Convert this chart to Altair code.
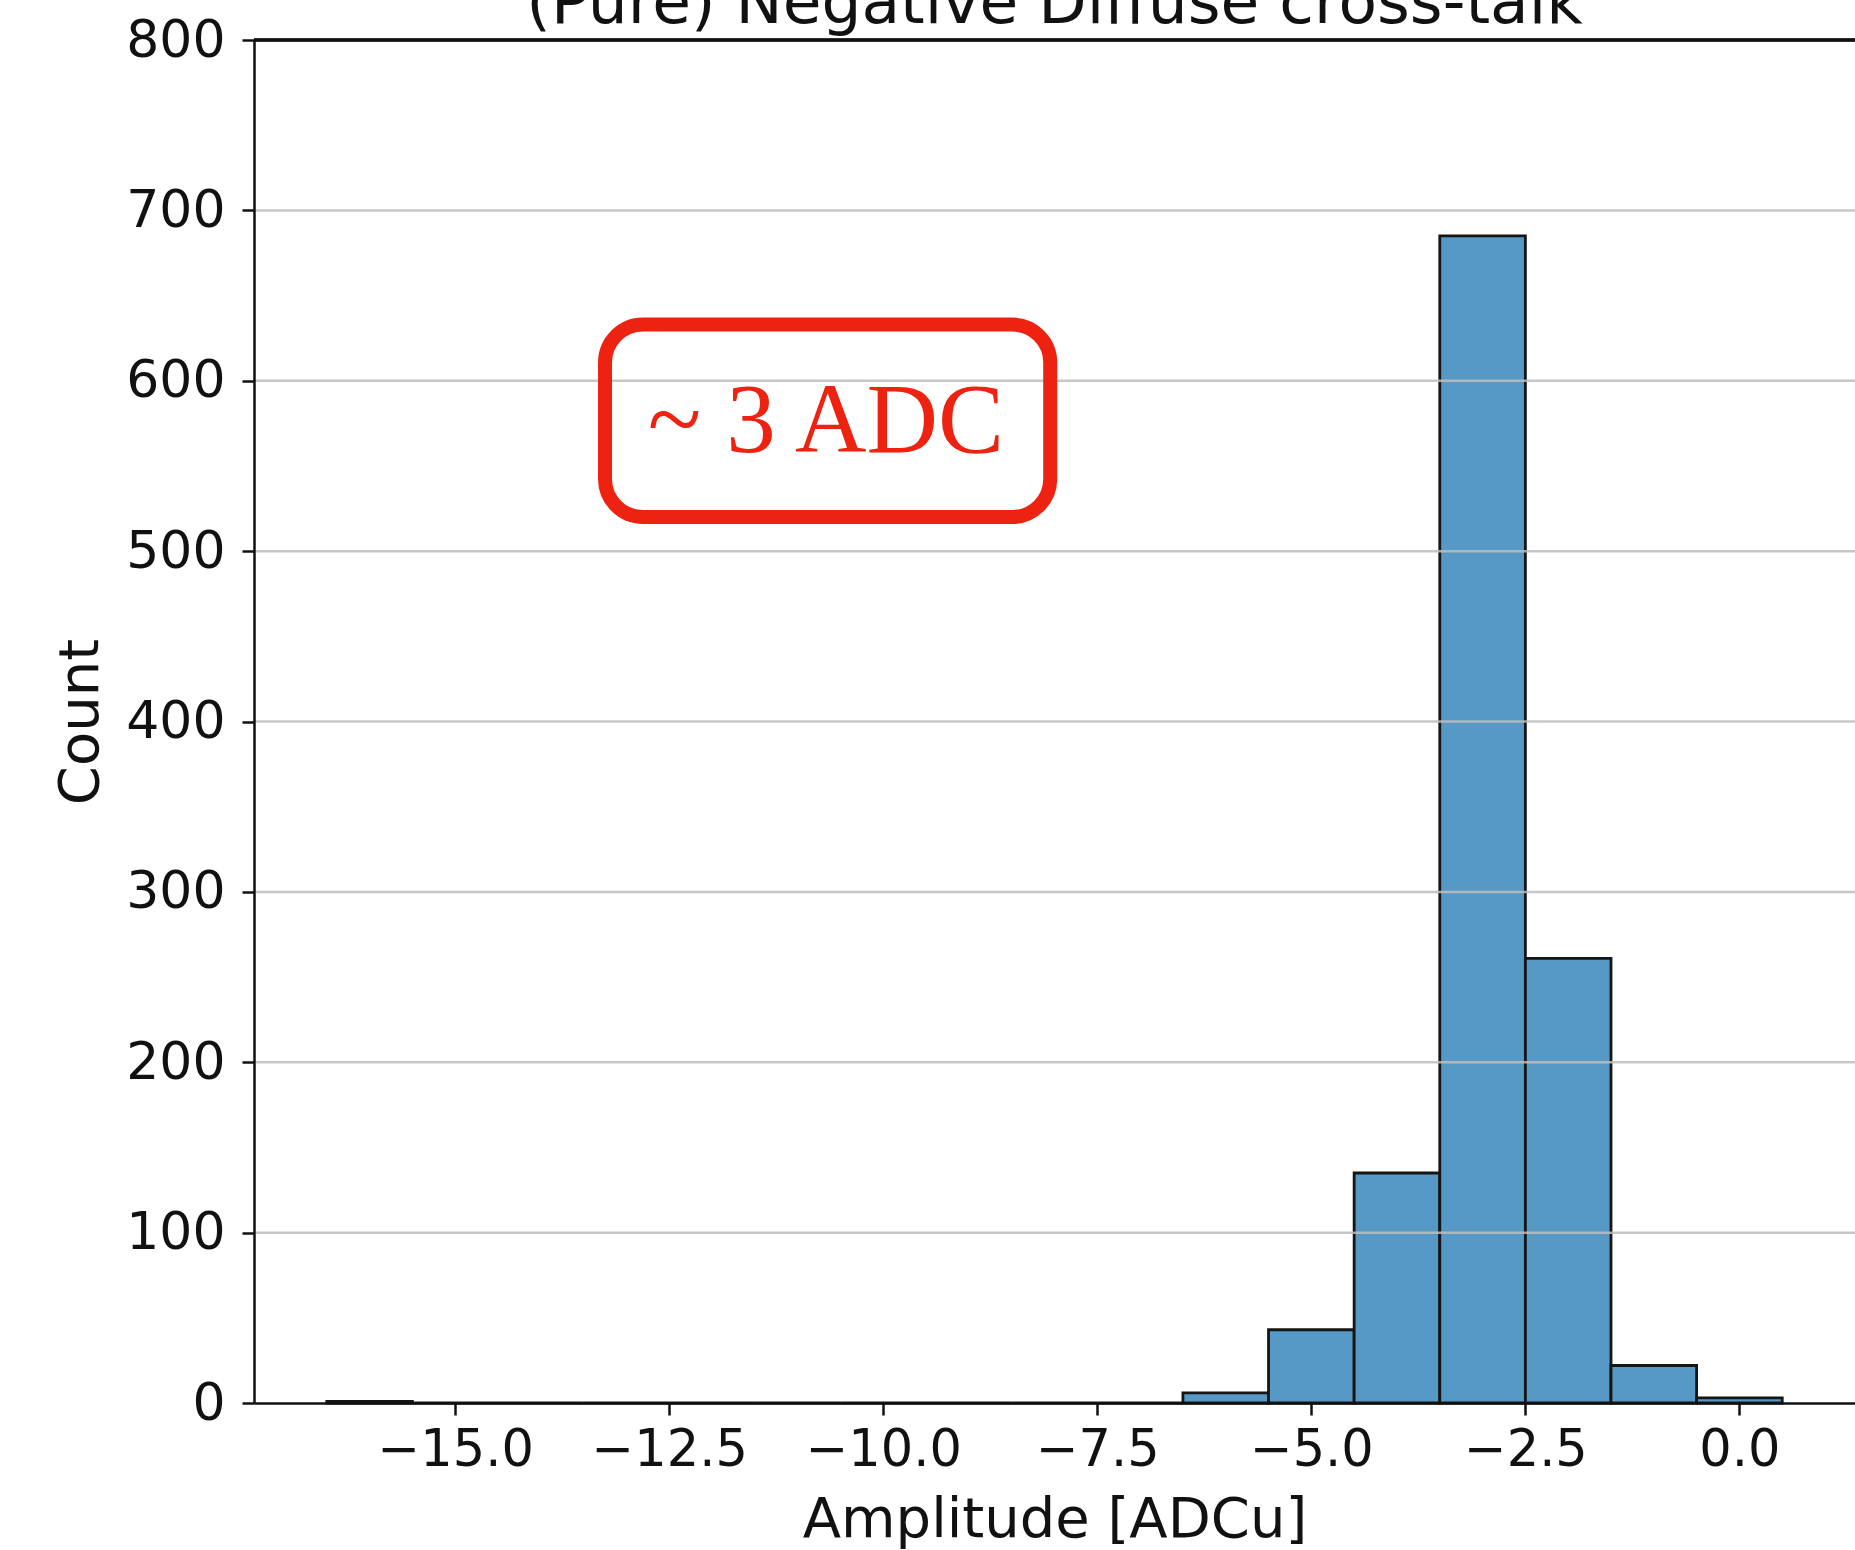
import altair as alt
import pandas as pd

# Histogram bins (edges) and counts
bin_start = [-16.5, -15.5, -14.5, -13.5, -12.5, -11.5, -10.5, -9.5, -8.5,
             -7.5, -6.5, -5.5, -4.5, -3.5, -2.5, -1.5, -0.5]
bin_end = [-15.5, -14.5, -13.5, -12.5, -11.5, -10.5, -9.5, -8.5, -7.5,
           -6.5, -5.5, -4.5, -3.5, -2.5, -1.5, -0.5, 0.5]
counts = [1, 0, 0, 0, 0, 0, 0, 0, 0, 0, 6, 43, 135, 685, 261, 22, 3]

x_ticks = [-15.0, -12.5, -10.0, -7.5, -5.0, -2.5, 0.0]
y_ticks = [0, 100, 200, 300, 400, 500, 600, 700, 800]
grid_vals = [100, 200, 300, 400, 500, 600, 700]

title_text = ["(Pure) Negative Diffuse cross-talk"]
x_label = "Amplitude [ADCu]"
y_label = "Count"

# Annotation (data coordinates)
ann_text = ["~ 3 ADC"]
ann_text_x = [-10.67]
ann_text_y = [558]
box_x1, box_x2 = [-13.25], [-8.05]
box_y1, box_y2 = [520], [633]

W, H = 1601, 1363
FONT = "DejaVu Sans"

hist = pd.DataFrame({"start": bin_start, "end": bin_end, "count": counts})
grid = pd.DataFrame({"y": grid_vals})
ann = pd.DataFrame({"t": ann_text, "x": ann_text_x, "y": ann_text_y})
box = pd.DataFrame({"x1": box_x1, "x2": box_x2, "y1": box_y1, "y2": box_y2})
ttl = pd.DataFrame({"t": title_text})

xscale = alt.Scale(domain=[-17.35, 1.35], nice=False, zero=False)
yscale = alt.Scale(domain=[0, 800], nice=False)

xaxis = alt.Axis(values=x_ticks, format=".1f", title=x_label, grid=False,
                 labelFont=FONT, labelFontSize=51, labelColor="#111",
                 labelPadding=10, tickSize=12, tickWidth=2.5, tickColor="#111",
                 domainColor="#111", domainWidth=2.5,
                 titleFont=FONT, titleFontSize=56, titleFontWeight="normal",
                 titleColor="#111", titleBaseline="alphabetic", titleY=133,
                 labelFlush=False, labelOverlap=False, zindex=2)
yaxis = alt.Axis(values=y_ticks, format="d", title=y_label, grid=False,
                 labelFont=FONT, labelFontSize=52, labelColor="#111",
                 labelPadding=17, tickSize=12, tickWidth=2.5, tickColor="#111",
                 domainColor="#111", domainWidth=2.5,
                 titleFont=FONT, titleFontSize=56, titleFontWeight="normal",
                 titleColor="#111", titleBaseline="middle", titleX=-174,
                 labelFlush=False, labelOverlap=False, zindex=2)

bars = alt.Chart(hist).mark_rect(
    fill="#5698c6", stroke="#151515", strokeWidth=2.8
).encode(
    x=alt.X("start:Q", scale=xscale, axis=xaxis),
    x2="end:Q",
    y=alt.Y("count:Q", scale=yscale, axis=yaxis),
    y2=alt.datum(0),
)

grid_rules = alt.Chart(grid).mark_rule(
    color="#bdbdbd", strokeWidth=2.5, opacity=0.85
).encode(
    y=alt.Y("y:Q", scale=yscale, axis=yaxis),
    x=alt.value(0), x2=alt.value(W),
)

top_spine = alt.Chart(grid).mark_rule(color="#111", strokeWidth=2.5).encode(
    x=alt.value(0), x2=alt.value(W), y=alt.value(0)
)

title_mark = alt.Chart(ttl).mark_text(
    font=FONT, fontSize=63, color="#111", align="center", baseline="alphabetic"
).encode(
    x=alt.value(W / 2), y=alt.value(-17), text="t:N"
)

box_mark = alt.Chart(box).mark_rect(
    fillOpacity=0, stroke="#ee2211", strokeWidth=14, cornerRadius=38
).encode(
    x=alt.X("x1:Q", scale=xscale, axis=xaxis), x2="x2:Q",
    y=alt.Y("y1:Q", scale=yscale, axis=yaxis), y2="y2:Q",
)

ann_text_mark = alt.Chart(ann).mark_text(
    font="Liberation Serif", fontSize=99, color="#ee2211",
    align="center", baseline="alphabetic"
).encode(
    x=alt.X("x:Q", scale=xscale, axis=xaxis),
    y=alt.Y("y:Q", scale=yscale, axis=yaxis),
    text="t:N",
)

chart = alt.layer(bars, grid_rules, top_spine, title_mark, box_mark,
                  ann_text_mark).properties(
    width=W, height=H,
    autosize=alt.AutoSizeParams(type="none"),
    padding={"left": 254, "top": 40, "right": 0, "bottom": 147},
).configure_view(stroke=None).configure(background="white")

chart.save("out.html", embed_options={"renderer": "svg", "actions": False})
